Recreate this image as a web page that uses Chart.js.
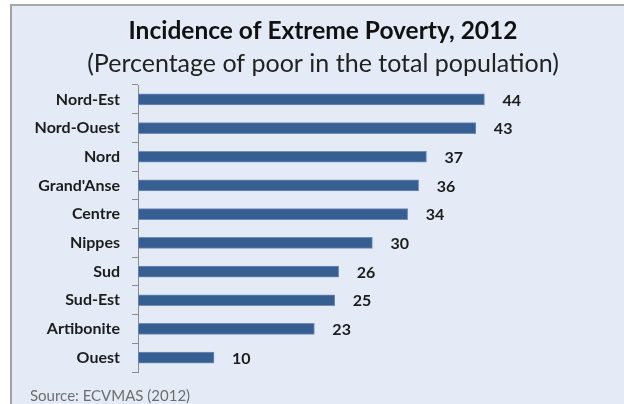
<!DOCTYPE html>
<html>
<head>
<meta charset="utf-8">
<script src="https://cdn.jsdelivr.net/npm/chart.js@4"></script>
<style>
    body {
        margin: 0;
        background: #ffffff;
    }

    #frame {
        position: absolute;
        left: 10px;
        top: 4px;
        width: 620px;
        height: 410px;
        background: #e5ebf6;
        border-left: 2px solid #a3a3a3;
        border-top: 2px solid #a8a8a8;
    }

    #wrap {
        position: absolute;
        left: 0;
        top: 0;
        width: 624px;
        height: 404px;
    }
</style>
</head>
<body>

<div id="frame"></div>

<div id="wrap">
    <canvas id="povertyChart" width="624" height="404"></canvas>
</div>

<script>
// ==========================
// DATA
// ==========================

const departments = [
    "Nord-Est",
    "Nord-Ouest",
    "Nord",
    "Grand'Anse",
    "Centre",
    "Nippes",
    "Sud",
    "Sud-Est",
    "Artibonite",
    "Ouest"
];

// labels show the rounded figure
const extremePoverty = [
    44.2, 43.1, 36.8, 35.8, 34.4,
    29.9, 25.6, 25.1, 22.5, 9.7
];

const chartTitle =
"Incidence of Extreme Poverty, 2012";

const chartSubtitle =
"(Percentage of poor in the total population)";

const sourceNote =
"Source: ECVMAS (2012)";

const fontFace =
"Lato, 'Open Sans', sans-serif";

// ==========================
// TITLES, VALUE LABELS, SOURCE
// ==========================

const extraText = {
    id: "extraText",
    afterDatasetsDraw(chart) {

        const ctx = chart.ctx;
        const meta = chart.getDatasetMeta(0);

        ctx.save();

        // titles (centred on the framed panel, not the plot)
        ctx.textAlign = "center";
        ctx.textBaseline = "alphabetic";

        ctx.font = "bold 24.5px " + fontFace;
        ctx.fillStyle = "#111111";
        ctx.fillText(chartTitle, 323, 39);

        ctx.font = "25px " + fontFace;
        ctx.fillStyle = "#222222";
        ctx.fillText(chartSubtitle, 323, 72);

        // value labels
        ctx.font = "bold 16px " + fontFace;
        ctx.fillStyle = "#1c1c1c";
        ctx.textAlign = "left";
        ctx.textBaseline = "middle";

        meta.data.forEach((bar, i) => {
            ctx.fillText(
                Math.round(extremePoverty[i]),
                bar.x + 18,
                bar.y + 1
            );
        });

        // source
        ctx.font = "15px " + fontFace;
        ctx.fillStyle = "#6d6d6d";
        ctx.fillText(sourceNote, 30, 396);

        ctx.restore();
    }
};

// ==========================
// BAR CHART
// ==========================

const canvas =
document.getElementById(
    "povertyChart"
);

new Chart(canvas, {
    type: "bar",
    data: {
        labels: departments,
        datasets: [{
            data: extremePoverty,
            backgroundColor: "#375e91",
            borderColor: "#6f8fbb",
            borderWidth: 1,
            borderSkipped: false,
            barThickness: 11
        }]
    },
    options: {
        indexAxis: "y",
        responsive: false,
        animation: false,
        layout: {
            padding: {
                top: 85,
                left: 0,
                right: 0,
                bottom: 32
            }
        },
        plugins: {
            legend: { display: false },
            tooltip: { enabled: false },
            title: { display: false }
        },
        scales: {
            x: {
                display: false,
                min: 0,
                max: 62
            },
            y: {
                afterFit(scale) {
                    scale.width = 138;
                },
                grid: {
                    drawOnChartArea: false,
                    offset: true,
                    tickLength: 6,
                    color: "#8c8c8c"
                },
                border: {
                    color: "#8c8c8c",
                    width: 1
                },
                ticks: {
                    padding: 12,
                    color: "#1c1c1c",
                    font: {
                        family: fontFace,
                        size: 16,
                        weight: "bold"
                    }
                }
            }
        }
    },
    plugins: [extraText]
});
</script>
</body>
</html>
